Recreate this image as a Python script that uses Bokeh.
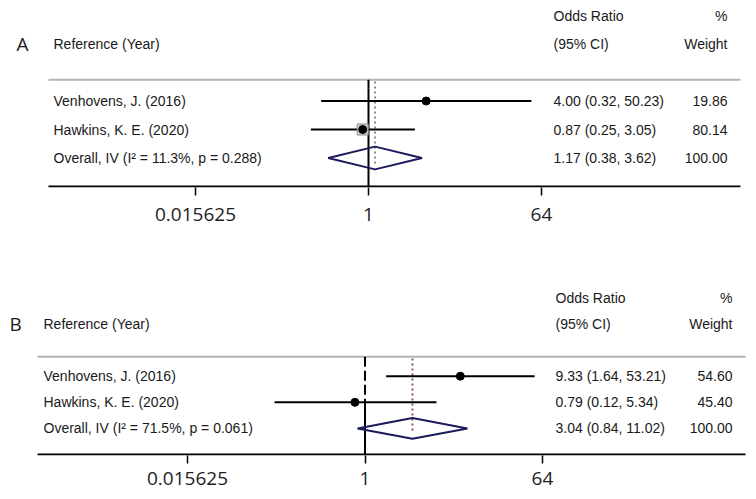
from bokeh.plotting import figure
from bokeh.models import Label, FixedTicker, Range1d
from bokeh.layouts import column
from bokeh.embed import file_html
from bokeh.resources import INLINE

# ---------------- data ----------------
studies = ["Venhovens, J. (2016)", "Hawkins, K. E. (2020)"]

a_or = [4.00, 0.87]
a_lo = [0.32, 0.25]
a_hi = [50.23, 3.05]
a_wt = [19.86, 80.14]
a_pooled = [1.17, 0.38, 3.62]
a_i2 = "11.3%"
a_p = "0.288"

b_or = [9.33, 0.79]
b_lo = [1.64, 0.12]
b_hi = [53.21, 5.34]
b_wt = [54.60, 45.40]
b_pooled = [3.04, 0.84, 11.02]
b_i2 = "71.5%"
b_p = "0.061"

tick_values = [0.015625, 1, 64]
tick_labels = ["0.015625", "1", "64"]

TXT_FONT = "Liberation Sans"
TXT_SIZE = "14px"
TXT_COLOR = "#1a1a1a"
W = 756


def make_panel(letter, ors, los, his, wts, pooled, i2, pval, geo):
    n = len(ors)
    rows = [n + 1 - i for i in range(n)]   # study rows (top to bottom)
    ov_row = 1
    ppu_x = geo["ppu_x"]      # pixels per log2 unit
    x0 = geo["x_one"]         # pixel position of OR = 1
    lg = lambda px: 2 ** ((px - x0) / ppu_x)
    ppu_y = geo["ppu_y"]
    fh = geo["fh"]
    p = figure(x_axis_type="log", output_backend="svg", toolbar_location=None,
               frame_width=W, frame_height=fh,
               min_border_left=0, min_border_right=0,
               min_border_top=0, min_border_bottom=geo["bb"],
               x_range=Range1d(lg(0), lg(W)),
               y_range=Range1d(-1 / ppu_y, (fh - 1) / ppu_y),
               y_axis_location=None)
    p.outline_line_color = None
    p.xgrid.visible = False
    p.ygrid.visible = False
    p.background_fill_color = "white"
    p.border_fill_color = "white"

    ax = p.xaxis[0]
    ax.ticker = FixedTicker(ticks=tick_values)
    ax.major_label_overrides = {v: l for v, l in zip(tick_values, tick_labels)}
    ax.axis_line_color = None
    ax.major_tick_out = 8
    ax.major_tick_in = 0
    ax.major_tick_line_width = 1.5
    ax.minor_tick_out = 0
    ax.minor_tick_in = 0
    ax.major_label_text_font = "Open Sans"
    ax.major_label_text_font_size = "19px"
    ax.major_label_text_color = "#222222"
    ax.major_label_standoff = geo["standoff"]

    xl, xr = lg(geo["line_l"]), lg(geo["line_r"])
    # top rule and axis rule
    p.segment(x0=[xl], y0=[3.75], x1=[xr], y1=[3.75], line_color="#b4b4b4", line_width=2)
    p.segment(x0=[xl], y0=[0], x1=[xr], y1=[0], line_color="black", line_width=2)

    # null line at OR = 1
    p.segment(x0=[1], y0=[3.75], x1=[1], y1=[geo["dash_to"]], line_color="black",
              line_width=2, line_dash="10 4")
    p.segment(x0=[1], y0=[geo["dash_to"]], x1=[1], y1=[0], line_color="black", line_width=2)

    # pooled estimate line
    p.segment(x0=[pooled[0]], y0=[3.68], x1=[pooled[0]], y1=[0.8],
              line_color=geo["ov_color"], line_width=2, line_dash="2 3")

    # CIs
    p.segment(x0=los, y0=rows, x1=his, y1=rows, line_color="black", line_width=2)
    if geo["boxes"]:
        sizes = [11 * (w / 80.14) ** 0.5 for w in wts]
        p.scatter(x=ors, y=rows, size=sizes, marker="square",
                  fill_color="#cfcfcf", line_color="#8c8c8c", line_width=1)
    p.scatter(x=ors, y=rows, size=geo["dot"], marker="circle", color="black")

    # diamond
    p.patch(x=[pooled[1], pooled[0], pooled[2], pooled[0]],
            y=[ov_row, ov_row + 0.4, ov_row, ov_row - 0.4],
            fill_color=None, line_color="#1b1b5c", line_width=2)

    def lab(x, y, t, align="left", font=TXT_FONT, size=TXT_SIZE):
        p.add_layout(Label(x=x, y=y, x_units="screen", y_units="data", text=t,
                           text_font=font, text_font_size=size, text_color=TXT_COLOR,
                           text_align=align, text_baseline="middle"))

    # headers
    lab(geo["x_letter"], 5, letter, font="Open Sans", size="19px")
    lab(geo["x_left"], 5, "Reference (Year)")
    lab(geo["x_or"], 6, "Odds Ratio")
    lab(geo["x_or"], 5, "(95% CI)")
    lab(geo["x_wt"], 6, "%", align="right")
    lab(geo["x_wt"], 5, "Weight", align="right")

    for name, y, o, lo, hi, w in zip(studies, rows, ors, los, his, wts):
        lab(geo["x_left"], y, name)
        lab(geo["x_or"], y, f"{o:.2f} ({lo:.2f}, {hi:.2f})")
        lab(geo["x_wt"], y, f"{w:.2f}", align="right")

    lab(geo["x_left"], ov_row, f"Overall, IV (I\u00b2 = {i2}, p = {pval})")
    lab(geo["x_or"], ov_row, f"{pooled[0]:.2f} ({pooled[1]:.2f}, {pooled[2]:.2f})")
    lab(geo["x_wt"], ov_row, f"{sum(wts):.2f}", align="right")
    return p


geo_a = dict(fh=187, bb=53, ppu_y=28.5, ppu_x=28.83, x_one=368, standoff=12,
             line_l=48, line_r=740,
             dash_to=3.45, ov_color="#8a8a8a", boxes=True, dot=8,
             x_letter=16, x_left=53, x_or=553, x_wt=727)
geo_b = dict(fh=215, bb=42, ppu_y=26.1, ppu_x=29.58, x_one=364.5, standoff=8,
             line_l=37, line_r=745,
             dash_to=2.0, ov_color="#8b5a5a", boxes=False, dot=8,
             x_letter=9, x_left=43, x_or=555, x_wt=732)

pa = make_panel("A", a_or, a_lo, a_hi, a_wt, a_pooled, a_i2, a_p, geo_a)
pb = make_panel("B", b_or, b_lo, b_hi, b_wt, b_pooled, b_i2, b_p, geo_b)

layout = column(pa, pb, spacing=0)
open("out.html", "w").write(file_html(layout, INLINE))
